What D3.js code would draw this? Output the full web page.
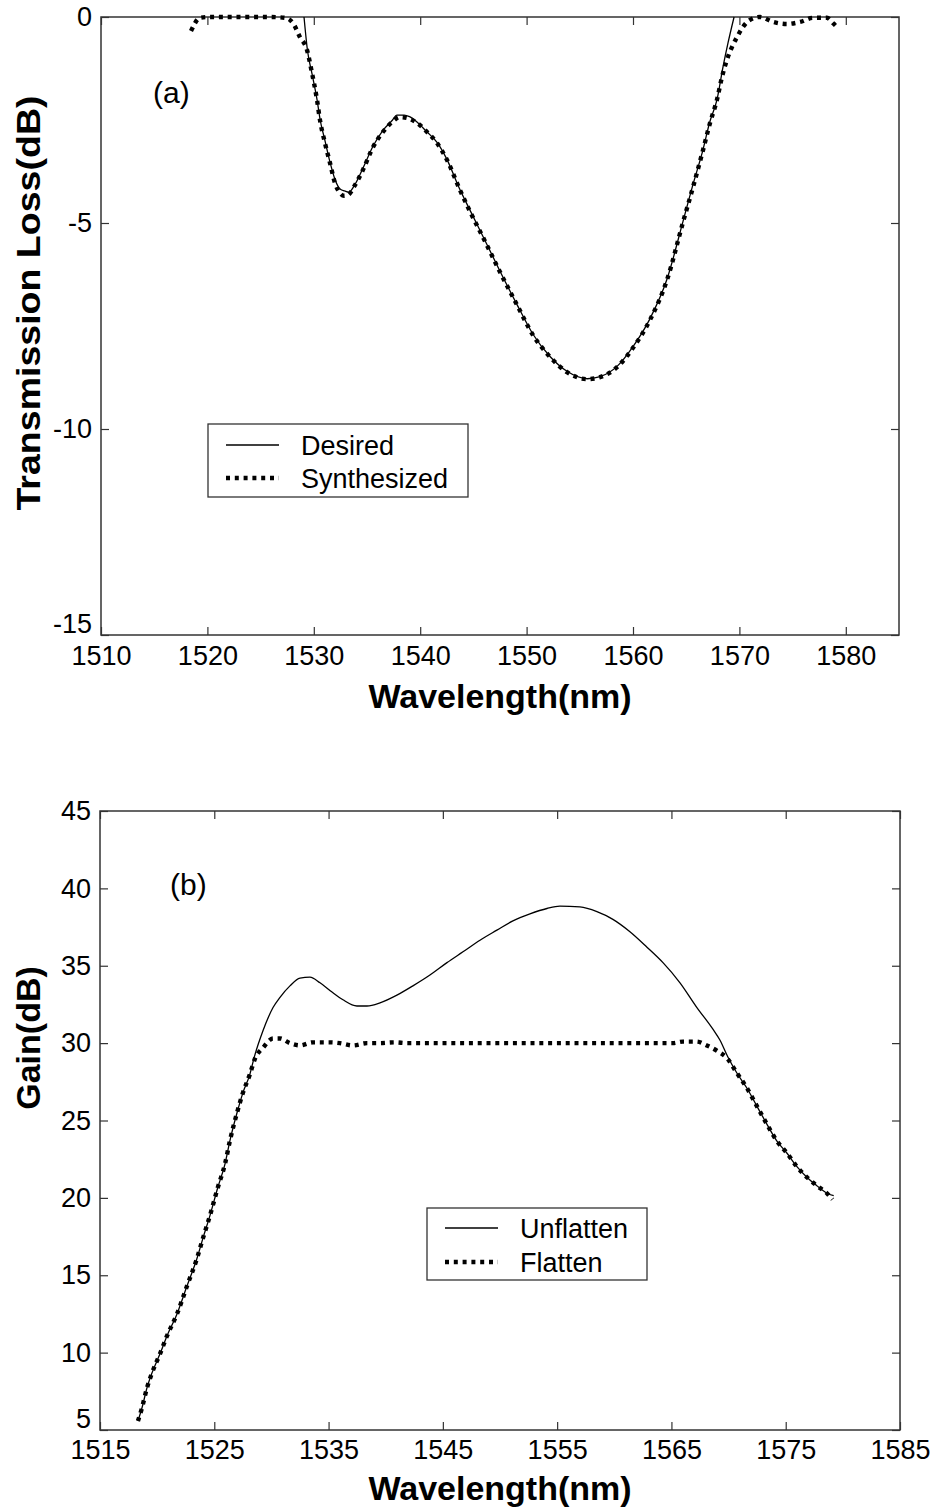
<!DOCTYPE html>
<html>
<head>
<meta charset="utf-8">
<script src="https://cdn.jsdelivr.net/npm/d3@7"></script>
<style>
  html, body { margin: 0; padding: 0; background: #fff; }
  svg { display: block; font-family: "Liberation Sans", Arial, Helvetica, sans-serif; }
</style>
</head>
<body>
<svg id="chart" width="935" height="1512"></svg>
<script>
// ---------- Panel (a): transmission loss ----------
const wlSynth = [1518.46, 1519.3, 1520.2, 1523.1, 1525.9, 1527.3, 1528.05, 1528.7, 1529.36, 1529.83, 1530.3, 1530.58, 1531.05, 1531.52, 1531.99, 1532.46, 1532.84, 1533.21, 1533.87, 1534.62, 1535.56, 1536.5, 1537.35, 1538.1, 1538.76, 1539.7, 1540.64, 1541.58, 1542.52, 1543.74, 1544.68, 1546.1, 1547.5, 1549.1, 1550.6, 1552.2, 1553.8, 1555.68, 1556.9, 1558.5, 1560.0, 1561.6, 1563.2, 1564.7, 1565.64, 1566.58, 1567.24, 1567.89, 1568.36, 1568.83, 1569.3, 1569.77, 1570.34, 1571.0, 1571.94, 1573.16, 1574.47, 1575.7, 1576.92, 1578.23, 1578.8, 1579.27];
const lossSynth = [-0.34, -0.02, 0, 0, 0, -0.02, -0.15, -0.49, -0.8, -1.36, -2.01, -2.5, -3.06, -3.54, -4.03, -4.27, -4.34, -4.32, -4.08, -3.71, -3.16, -2.79, -2.55, -2.43, -2.45, -2.57, -2.79, -3.06, -3.47, -4.2, -4.72, -5.45, -6.19, -6.99, -7.72, -8.25, -8.62, -8.79, -8.74, -8.5, -8.03, -7.35, -6.38, -4.98, -4.13, -3.23, -2.57, -2.01, -1.46, -1.04, -0.73, -0.49, -0.24, -0.07, 0, -0.12, -0.17, -0.12, -0.02, -0.02, -0.15, -0.27];

const wlDesired = [1529.08, 1529.4, 1529.85, 1530.3, 1530.6, 1531.05, 1531.5, 1532.0, 1532.5, 1532.9, 1533.3, 1533.9, 1534.6, 1535.6, 1536.5, 1537.4, 1537.8, 1538.5, 1539.0, 1539.7, 1540.6, 1541.6, 1542.5, 1543.7, 1544.7, 1546.1, 1547.5, 1549.1, 1550.6, 1552.2, 1553.8, 1555.7, 1556.9, 1558.5, 1560.0, 1561.6, 1563.2, 1564.7, 1565.6, 1566.6, 1567.2, 1567.9, 1568.46, 1568.93, 1569.5];
const lossDesired = [0, -0.8, -1.4, -2.0, -2.5, -3.0, -3.5, -3.95, -4.18, -4.22, -4.25, -4.05, -3.68, -3.12, -2.75, -2.5, -2.38, -2.38, -2.42, -2.55, -2.78, -3.05, -3.45, -4.17, -4.7, -5.43, -6.17, -6.98, -7.7, -8.24, -8.6, -8.78, -8.73, -8.48, -8.0, -7.32, -6.36, -4.96, -4.1, -3.2, -2.56, -2.0, -1.21, -0.63, 0];

const xTicksA = [1510, 1520, 1530, 1540, 1550, 1560, 1570, 1580];
const yTicksA = [0, -5, -10, -15];

// ---------- Panel (b): gain ----------
const wlUnflat = [1518.32, 1518.67, 1519.11, 1519.55, 1520.25, 1520.86, 1521.74, 1522.61, 1523.49, 1524.01, 1524.62, 1525.32, 1525.94, 1526.37, 1526.99, 1527.51, 1528.12, 1528.5, 1529.26, 1530.14, 1530.75, 1531.62, 1532.5, 1533.37, 1534.25, 1535.3, 1536.26, 1537.48, 1538.36, 1539.5, 1540.98, 1542.38, 1543.87, 1545.36, 1546.76, 1548.25, 1549.73, 1551.13, 1552.62, 1554.11, 1555.24, 1556.99, 1558.48, 1559.88, 1561.37, 1562.86, 1564.26, 1565.75, 1567.23, 1568.63, 1569.24, 1569.94, 1570.7, 1571.6, 1572.5, 1573.4, 1574.2, 1575.1, 1576.0, 1576.9, 1577.7, 1578.6, 1579.2];
const gainUnflat = [5.58, 6.42, 7.72, 8.69, 9.92, 11.08, 12.5, 14.3, 16.1, 17.4, 18.85, 20.7, 22.2, 23.7, 25.5, 26.8, 28.0, 29.1, 30.8, 32.3, 32.96, 33.7, 34.2, 34.26, 33.9, 33.3, 32.8, 32.4, 32.4, 32.6, 33.1, 33.7, 34.4, 35.2, 35.9, 36.65, 37.3, 37.9, 38.35, 38.7, 38.85, 38.8, 38.5, 38.0, 37.2, 36.2, 35.2, 33.9, 32.3, 30.9, 30.2, 29.1, 28.1, 27.1, 25.9, 24.7, 23.7, 22.9, 22.0, 21.3, 20.8, 20.3, 20.15];

const wlFlat = [1518.32, 1518.67, 1519.11, 1519.55, 1520.25, 1520.86, 1521.74, 1522.61, 1523.49, 1524.01, 1524.62, 1525.32, 1525.94, 1526.37, 1526.99, 1527.51, 1528.12, 1528.56, 1529.26, 1530.14, 1530.75, 1531.62, 1532.5, 1533.63, 1535.12, 1535.99, 1537.13, 1538.36, 1539.5, 1540.81, 1541.86, 1545, 1550, 1555, 1560, 1565.13, 1566.0, 1567.2, 1568.1, 1569.0, 1569.9, 1570.7, 1571.6, 1572.5, 1573.4, 1574.2, 1575.1, 1576.0, 1576.9, 1577.7, 1578.6, 1579.1];
const gainFlat = [5.58, 6.42, 7.72, 8.69, 9.92, 11.08, 12.5, 14.3, 16.1, 17.4, 18.85, 20.7, 22.2, 23.7, 25.5, 26.8, 28.0, 29.0, 29.7, 30.3, 30.3, 30.0, 29.85, 30.05, 30.05, 30.0, 29.85, 30.0, 30.0, 30.05, 30.0, 30.0, 30.0, 30.0, 30.0, 30.0, 30.1, 30.1, 29.85, 29.5, 29.0, 28.1, 27.1, 25.9, 24.7, 23.7, 22.9, 22.0, 21.3, 20.8, 20.3, 19.9];

const xTicksB = [1515, 1525, 1535, 1545, 1555, 1565, 1575, 1585];
const yTicksB = [5, 10, 15, 20, 25, 30, 35, 40, 45];

// ---------- Drawing ----------
const svg = d3.select("#chart");
const AX = "#333";
const zip = (xs, ys) => xs.map((x, i) => [x, ys[i]]);

function panel(cfg) {
  const { left, right, top, bottom, xDomain, yDomain, xTicks, yTicks } = cfg;
  const x = d3.scaleLinear().domain(xDomain).range([left, right]);
  const y = d3.scaleLinear().domain(yDomain).range([bottom, top]);
  const g = svg.append("g");
  const fmt = d => String(d);
  const tk = 8;

  g.append("rect").attr("x", left).attr("y", top)
    .attr("width", right - left).attr("height", bottom - top)
    .attr("fill", "none").attr("stroke", AX).attr("stroke-width", 1.5);

  const styleAxis = sel => {
    sel.select(".domain").remove();
    sel.selectAll(".tick line").attr("stroke", AX).attr("stroke-width", 1.2);
    sel.selectAll(".tick text").attr("fill", "#000").attr("font-size", 27)
      .attr("font-family", "'Liberation Sans', Arial, sans-serif");
  };

  g.append("g").attr("transform", `translate(0,${bottom})`)
    .call(d3.axisBottom(x).tickValues(xTicks).tickFormat(fmt).tickSizeInner(-tk).tickSizeOuter(0).tickPadding(cfg.xPad))
    .call(styleAxis);
  g.append("g").attr("transform", `translate(0,${top})`)
    .call(d3.axisTop(x).tickValues(xTicks).tickFormat("").tickSizeInner(-tk).tickSizeOuter(0))
    .call(styleAxis);
  const yAx = g.append("g").attr("transform", `translate(${left},0)`)
    .call(d3.axisLeft(y).tickValues(yTicks).tickFormat(fmt).tickSizeInner(-tk).tickSizeOuter(0).tickPadding(9))
    .call(styleAxis);
  // lift the bottom-most y label slightly, as in the reference, so it clears the x labels
  yAx.selectAll(".tick text").filter(d => d === yDomain[0]).attr("dy", "-0.08em");
  g.append("g").attr("transform", `translate(${right},0)`)
    .call(d3.axisRight(y).tickValues(yTicks).tickFormat("").tickSizeInner(-tk).tickSizeOuter(0))
    .call(styleAxis);

  const line = d3.line().x(d => x(d[0])).y(d => y(d[1])).curve(d3.curveMonotoneX);
  cfg.series.forEach(s => {
    g.append("path").datum(zip(s.xs, s.ys)).attr("d", line)
      .attr("fill", "none").attr("stroke", "#000")
      .attr("stroke-width", s.dotted ? 4.4 : 1.3)
      .attr("stroke-dasharray", s.dotted ? "4 4.8" : null)
      .attr("stroke-linejoin", "round");
  });

  g.append("text").attr("x", cfg.tag[0]).attr("y", cfg.tag[1])
    .attr("font-size", 30).text(cfg.tag[2]);

  g.append("text").attr("x", (left + right) / 2).attr("y", cfg.xTitleY)
    .attr("text-anchor", "middle").attr("font-size", 34).attr("font-weight", "bold")
    .text("Wavelength(nm)");
  const yt = g.append("text").attr("transform", `translate(${cfg.yTitle[0]},${cfg.yTitle[1]}) rotate(-90)`)
    .attr("text-anchor", "middle").attr("font-size", 34).attr("font-weight", "bold")
    .text(cfg.yTitle[2]);
  if (cfg.yTitle[3]) yt.attr("textLength", cfg.yTitle[3]).attr("lengthAdjust", "spacingAndGlyphs");

  const L = cfg.legend;
  g.append("rect").attr("x", L.x).attr("y", L.y).attr("width", L.w).attr("height", L.h)
    .attr("fill", "#fff").attr("stroke", AX).attr("stroke-width", 1.3);
  L.items.forEach((it, i) => {
    const ly = L.y + L.rowY[i];
    g.append("line").attr("x1", L.x + 18).attr("x2", L.x + 71).attr("y1", ly).attr("y2", ly)
      .attr("stroke", "#000").attr("stroke-width", it.dotted ? 4.4 : 1.3)
      .attr("stroke-dasharray", it.dotted ? "4 4.8" : null);
    g.append("text").attr("x", L.x + 93).attr("y", ly + 10)
      .attr("font-size", 27).text(it.label);
  });
}

panel({
  left: 101, right: 899, top: 17, bottom: 635,
  xDomain: [1510, 1585], yDomain: [-15, 0],
  xTicks: xTicksA, yTicks: yTicksA, xPad: 11,
  series: [
    { xs: wlDesired, ys: lossDesired, dotted: false },
    { xs: wlSynth, ys: lossSynth, dotted: true }
  ],
  tag: [153, 103, "(a)"],
  xTitleY: 708,
  yTitle: [40, 303, "Transmission Loss(dB)", 415],
  legend: { x: 208, y: 424, w: 260, h: 73, rowY: [21, 54],
    items: [{ label: "Desired", dotted: false }, { label: "Synthesized", dotted: true }] }
});

panel({
  left: 100, right: 900, top: 811, bottom: 1430,
  xDomain: [1515, 1585], yDomain: [5, 45],
  xTicks: xTicksB, yTicks: yTicksB, xPad: 10,
  series: [
    { xs: wlUnflat, ys: gainUnflat, dotted: false },
    { xs: wlFlat, ys: gainFlat, dotted: true }
  ],
  tag: [170, 895, "(b)"],
  xTitleY: 1500,
  yTitle: [40, 1038, "Gain(dB)"],
  legend: { x: 427, y: 1208, w: 220, h: 72, rowY: [20, 54],
    items: [{ label: "Unflatten", dotted: false }, { label: "Flatten", dotted: true }] }
});
</script>
</body>
</html>
